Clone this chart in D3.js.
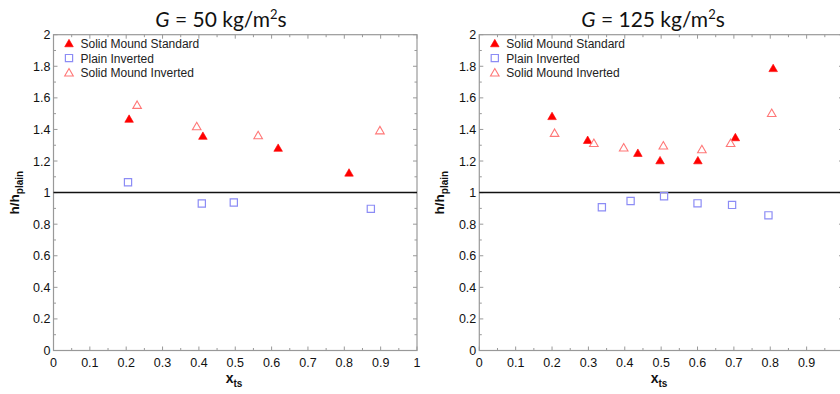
<!DOCTYPE html>
<html><head><meta charset="utf-8">
<script src="https://cdnjs.cloudflare.com/ajax/libs/d3/7.8.5/d3.min.js"></script>
<style>body{margin:0;background:#fff}svg{display:block}</style>
</head><body><svg id="c" width="840" height="394"></svg>
<script>
// ---- data ----
const titles = ["50", "125"];
const seriesNames = ["Solid Mound Standard", "Plain Inverted", "Solid Mound Inverted"];
const xTicks = [0,0.1,0.2,0.3,0.4,0.5,0.6,0.7,0.8,0.9,1];
const yTicks = [0,0.2,0.4,0.6,0.8,1,1.2,1.4,1.6,1.8,2];

// G = 50
const g50_standard_x = [0.208, 0.411, 0.618, 0.813];
const g50_standard_y = [1.466, 1.358, 1.282, 1.125];
const g50_plain_x = [0.205, 0.408, 0.496, 0.873];
const g50_plain_y = [1.066, 0.931, 0.937, 0.897];
const g50_inverted_x = [0.230, 0.394, 0.563, 0.898];
const g50_inverted_y = [1.554, 1.419, 1.362, 1.393];

// G = 125
const g125_standard_x = [0.200, 0.298, 0.436, 0.497, 0.601, 0.704, 0.808];
const g125_standard_y = [1.483, 1.332, 1.250, 1.203, 1.203, 1.349, 1.787];
const g125_plain_x = [0.337, 0.416, 0.508, 0.600, 0.695, 0.795];
const g125_plain_y = [0.907, 0.947, 0.977, 0.932, 0.922, 0.856];
const g125_inverted_x = [0.207, 0.315, 0.397, 0.506, 0.612, 0.691, 0.804];
const g125_inverted_y = [1.377, 1.313, 1.284, 1.297, 1.273, 1.313, 1.503];

const zip = (xs, ys) => xs.map((x,i)=>({x, y: ys[i]}));
const panels = [
  {G: titles[0], x0: 53.5, x1: 417, tcx: 221, xlx: 234, series: [zip(g50_standard_x,g50_standard_y), zip(g50_plain_x,g50_plain_y), zip(g50_inverted_x,g50_inverted_y)]},
  {G: titles[1], x0: 479.3, x1: 843, tcx: 653, xlx: 659, series: [zip(g125_standard_x,g125_standard_y), zip(g125_plain_x,g125_plain_y), zip(g125_inverted_x,g125_inverted_y)]}
];

const svg = d3.select("#c");
const W = 840;
const yTop = 34.7, yBot = 350.5;
const axisCol = "#999";
const tickFont = "Liberation Sans, Arial, sans-serif";

const triSym = d3.symbol().type(d3.symbolTriangle);
const sqSym = d3.symbol().type(d3.symbolSquare);

panels.forEach(p => {
  const x = d3.scaleLinear().domain([0,1]).range([p.x0, p.x1]);
  const y = d3.scaleLinear().domain([0,2]).range([yBot, yTop]);
  const g = svg.append("g");

  const xMinor = d3.range(0, 1.0001, 0.05);
  const yMinor = d3.range(0, 2.0001, 0.1);

  // frame
  g.append("rect").attr("x", p.x0).attr("y", yTop).attr("width", p.x1 - p.x0).attr("height", yBot - yTop)
    .attr("fill", "none").attr("stroke", axisCol).attr("stroke-width", 1.2);

  // ticks inward on all sides
  const tk = g.append("g").attr("stroke", axisCol).attr("stroke-width", 1);
  xMinor.forEach((v,i) => {
    const L = (i % 2 === 0) ? 4 : 2.5;
    tk.append("line").attr("x1", x(v)).attr("x2", x(v)).attr("y1", yBot).attr("y2", yBot - L);
    tk.append("line").attr("x1", x(v)).attr("x2", x(v)).attr("y1", yTop).attr("y2", yTop + L);
  });
  yMinor.forEach((v,i) => {
    const L = (i % 2 === 0) ? 4 : 2.5;
    tk.append("line").attr("y1", y(v)).attr("y2", y(v)).attr("x1", p.x0).attr("x2", p.x0 + L);
    tk.append("line").attr("y1", y(v)).attr("y2", y(v)).attr("x1", p.x1).attr("x2", p.x1 - L);
  });

  // tick labels (only those inside the picture)
  xTicks.filter(v => x(v) + 4 < W).forEach(v => {
    g.append("text").attr("x", x(v)).attr("y", yBot + 16).attr("text-anchor", "middle")
      .attr("font-family", tickFont).attr("font-size", 12.5).attr("fill", "#111").text(d3.format("")(v));
  });
  yTicks.forEach(v => {
    g.append("text").attr("x", p.x0 - 3).attr("y", y(v) + 4.5).attr("text-anchor", "end")
      .attr("font-family", tickFont).attr("font-size", 12.5).attr("fill", "#111").text(d3.format("")(v));
  });

  // reference line y=1
  g.append("line").attr("x1", p.x0).attr("x2", p.x1).attr("y1", y(1)).attr("y2", y(1))
    .attr("stroke", "#111").attr("stroke-width", 1.5);

  // title
  const t = g.append("text").attr("x", p.tcx).attr("y", 27).attr("text-anchor", "middle")
    .attr("font-family", "Lato, Open Sans, sans-serif").attr("font-size", 21).attr("fill", "#111");
  t.append("tspan").attr("font-style", "italic").text("G");
  t.append("tspan").text(" = " + p.G + " kg/m");
  t.append("tspan").attr("font-size", 13).attr("dy", -8).text("2");
  t.append("tspan").attr("dy", 8).text("s");

  // axis labels
  const xl = g.append("text").attr("x", p.xlx).attr("y", 383).attr("text-anchor", "middle")
    .attr("font-family", tickFont).attr("font-size", 14).attr("font-weight", "bold").attr("fill", "#111");
  xl.append("tspan").text("x");
  xl.append("tspan").attr("font-size", 10).attr("dy", 4).text("ts");

  const yl = g.append("text").attr("transform", `translate(${p.x0 - 35},${y(1)}) rotate(-90)`).attr("text-anchor", "middle")
    .attr("font-family", tickFont).attr("font-size", 13.5).attr("font-weight", "bold").attr("fill", "#111");
  yl.append("tspan").text("h/h");
  yl.append("tspan").attr("font-size", 10).attr("dy", 4).text("plain");

  // markers
  const styles = [
    {sym: triSym.size(30), fill: "#f00", stroke: "#f00", sw: 0.6},
    {sym: sqSym.size(52), fill: "none", stroke: "#8c8cf5", sw: 1.2},
    {sym: triSym.size(32), fill: "none", stroke: "#f77", sw: 1.1}
  ];
  p.series.forEach((s, si) => {
    const st = styles[si];
    const sp = st.sym();
    g.append("g").selectAll("path").data(s).join("path")
      .attr("transform", d => `translate(${x(d.x)},${y(d.y) + (si !== 1 ? 0.8 : 0)})`)
      .attr("d", sp).attr("fill", st.fill).attr("stroke", st.stroke).attr("stroke-width", st.sw);
  });

  // legend
  seriesNames.forEach((name, i) => {
    const ly = 43.5 + i * 14.6;
    const st = styles[i];
    g.append("path").attr("transform", `translate(${p.x0 + 15.5},${ly + (i !== 1 ? 0.8 : 0)})`)
      .attr("d", st.sym()).attr("fill", st.fill).attr("stroke", st.stroke).attr("stroke-width", st.sw);
    g.append("text").attr("x", p.x0 + 27).attr("y", ly + 4.5)
      .attr("font-family", tickFont).attr("font-size", 12).attr("fill", "#222").text(name);
  });
});
</script></body></html>
